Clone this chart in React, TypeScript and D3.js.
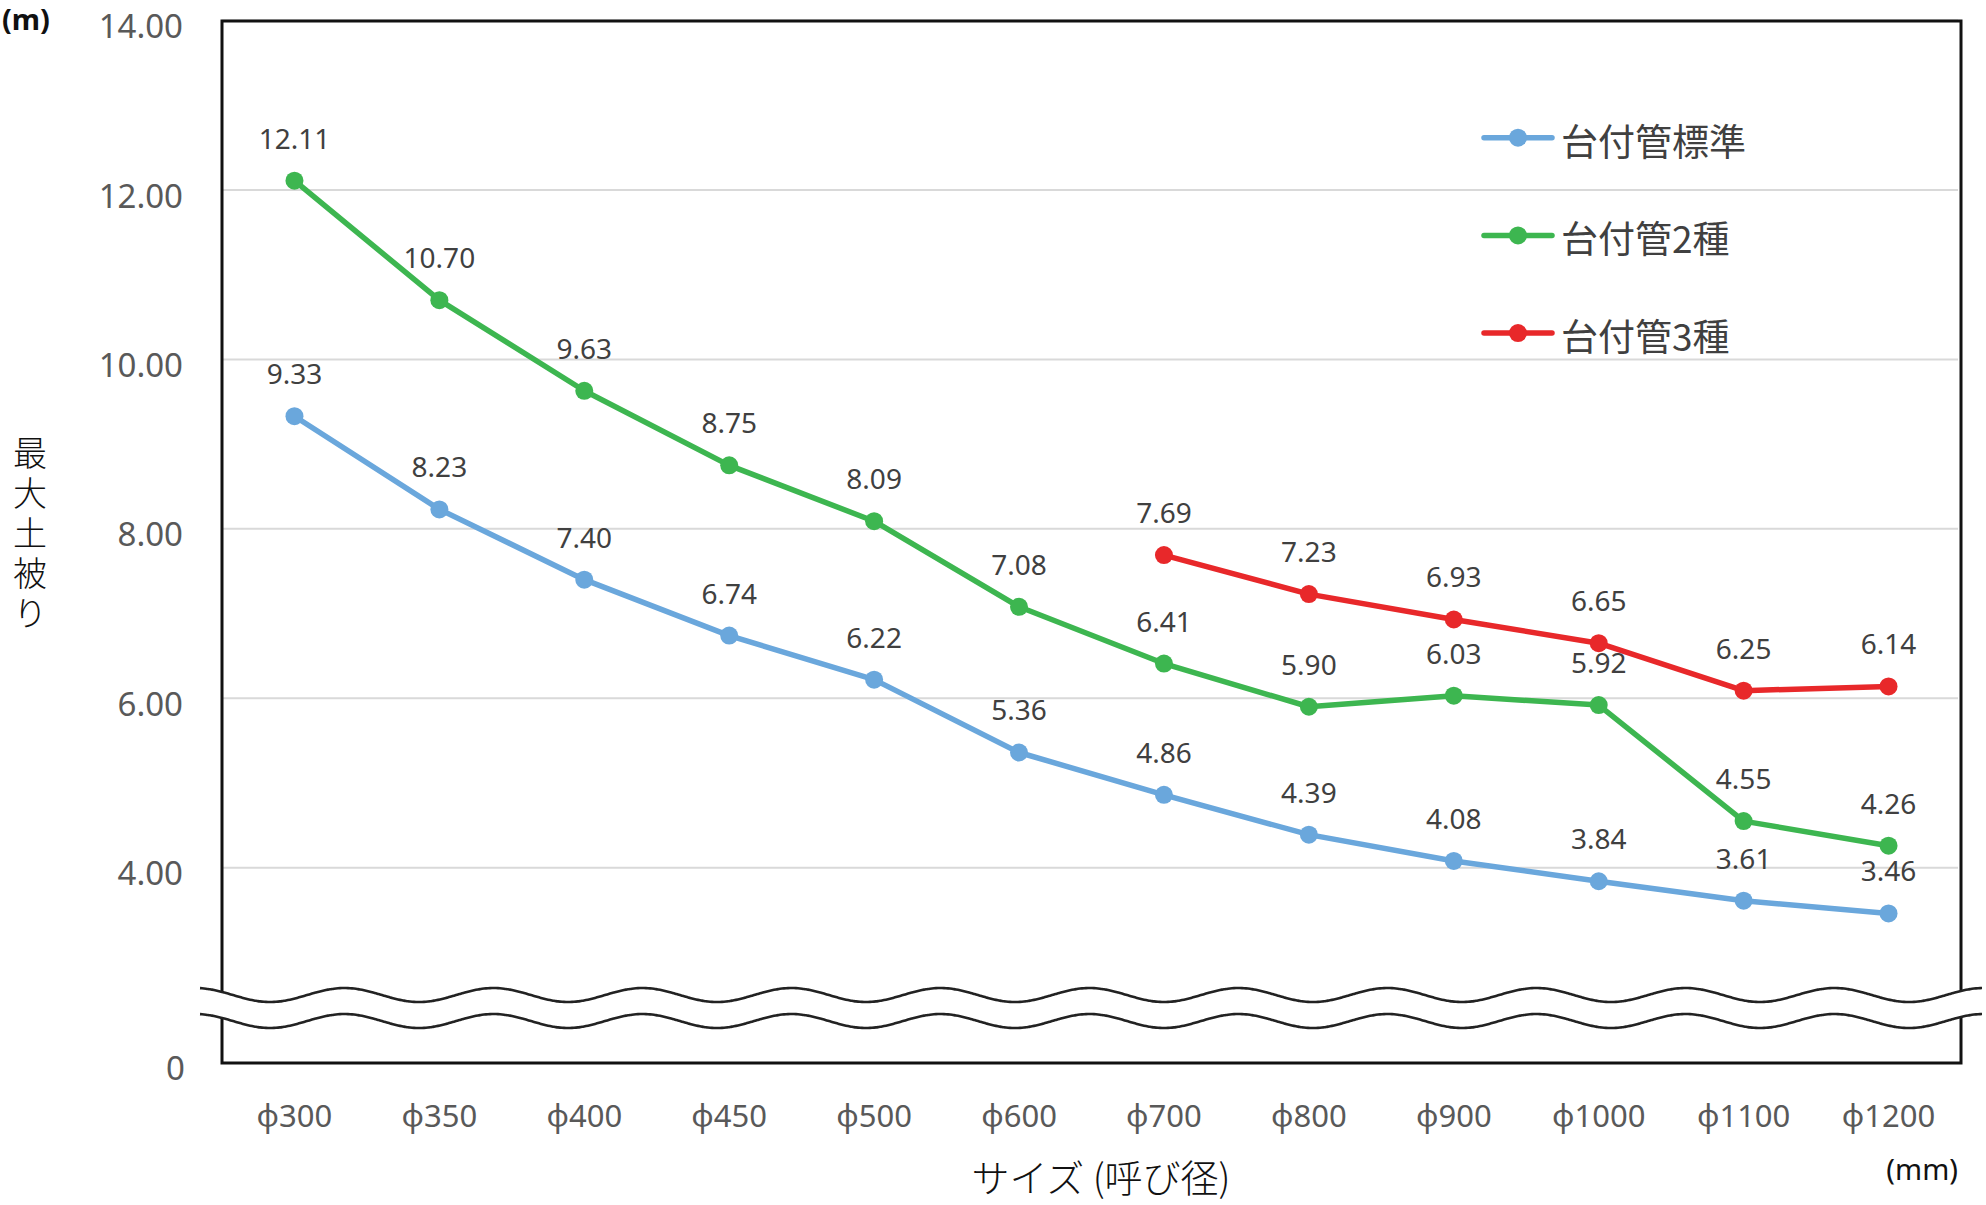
import React from "react";
import * as d3 from "d3";

const categories = ["ϕ300", "ϕ350", "ϕ400", "ϕ450", "ϕ500", "ϕ600", "ϕ700", "ϕ800", "ϕ900", "ϕ1000", "ϕ1100", "ϕ1200"];
const standardValues = [9.33, 8.23, 7.40, 6.74, 6.22, 5.36, 4.86, 4.39, 4.08, 3.84, 3.61, 3.46];
const type2Values = [12.11, 10.70, 9.63, 8.75, 8.09, 7.08, 6.41, 5.90, 6.03, 5.92, 4.55, 4.26];
// plotted positions (the φ1100 point sits lower than its label)
const type3Values: (number | null)[] = [null, null, null, null, null, null, 7.69, 7.23, 6.93, 6.65, 6.09, 6.14];
const type3Labels: (string | null)[] = [null, null, null, null, null, null, "7.69", "7.23", "6.93", "6.65", "6.25", "6.14"];
const yTicks = [4, 6, 8, 10, 12, 14];
const seriesNames = ["台付管標準", "台付管2種", "台付管3種"];
const seriesColors = ["#6aa7dc", "#3db650", "#e8282a"];

const W = 1986;
const H = 1205;
const left = 222;
const right = 1961;
const top = 21;
const bottom = 1063;

export default function App() {
  const x = d3.scalePoint<string>().domain(categories).range([left, right]).padding(0.5);
  const y = d3.scaleLinear().domain([4, 14]).range([867.7, 20.6]);
  const line = d3
    .line<number | null>()
    .defined((d) => d !== null)
    .x((_, i) => x(categories[i]) as number)
    .y((d) => y(d as number));

  const series = [
    { values: standardValues as (number | null)[], labels: standardValues.map((v) => v.toFixed(2)) as (string | null)[] },
    { values: type2Values as (number | null)[], labels: type2Values.map((v) => v.toFixed(2)) as (string | null)[] },
    { values: type3Values, labels: type3Labels },
  ];

  // break waves
  const period = 149;
  const amp = 7;
  const wave = (c: number) => {
    const pts: [number, number][] = [];
    for (let px = 200; px <= 1982; px += 2) {
      pts.push([px, c + amp * Math.cos((2 * Math.PI * (px - 270)) / period)]);
    }
    return pts;
  };
  const w1 = wave(995);
  const w2 = wave(1021);
  const waveLine = d3.line<[number, number]>().curve(d3.curveBasis);
  const gapArea = d3
    .area<[number, number]>()
    .x((d) => d[0])
    .y0((d) => d[1])
    .y1((d, i) => w2[i][1]);

  const sans = "'Noto Sans', 'Noto Sans CJK JP', sans-serif";
  const jp = "'Noto Sans CJK JP', 'Noto Sans', sans-serif";

  return (
    <svg width={W} height={H} style={{ display: "block", position: "absolute", left: 0, top: 0 }}>
      <rect x={0} y={0} width={W} height={H} fill="#fff" />
      {/* gridlines */}
      {yTicks.map((t) => (
        <line key={t} x1={left} x2={right - 3} y1={y(t)} y2={y(t)} stroke="#d9d9d9" strokeWidth={2} />
      ))}
      {/* frame */}
      <rect x={left} y={top} width={right - left} height={bottom - top} fill="none" stroke="#111" strokeWidth={3} />
      {/* break: white gap and waves */}
      <path d={gapArea(w1) || ""} fill="#fff" />
      <path d={waveLine(w1) || ""} fill="none" stroke="#222" strokeWidth={2.6} />
      <path d={waveLine(w2) || ""} fill="none" stroke="#222" strokeWidth={2.6} />

      {/* y tick labels */}
      {yTicks.map((t) => (
        <text key={t} x={183} y={y(t) + 5} textAnchor="end" dominantBaseline="central" fontFamily={sans} fontSize={33} fill="#595959">
          {t.toFixed(2)}
        </text>
      ))}
      <text x={185} y={1067} textAnchor="end" dominantBaseline="central" fontFamily={sans} fontSize={33} fill="#595959">
        0
      </text>
      <text x={2} y={30} fontFamily={sans} fontSize={29} fontWeight="bold" fill="#111">
        (m)
      </text>
      <text
        x={30}
        y={436}
        fontFamily={jp}
        fontSize={34}
        fontWeight={300}
        fill="#111"
        letterSpacing={6}
        style={{ writingMode: "vertical-rl" }}
      >
        最大土被り
      </text>

      {/* x tick labels */}
      {categories.map((c) => (
        <text key={c} x={x(c) as number} y={1127} textAnchor="middle" fontFamily={sans} fontSize={31} fill="#595959">
          {c}
        </text>
      ))}
      <text x={1101} y={1192} textAnchor="middle" fontFamily={jp} fontSize={38} fontWeight={300} fill="#111">
        サイズ (呼び径)
      </text>
      <text x={1958} y={1180} textAnchor="end" fontFamily={sans} fontSize={29} fill="#111">
        (mm)
      </text>

      {/* series */}
      {series.map((s, si) => (
        <g key={si}>
          <path d={line(s.values) || ""} fill="none" stroke={seriesColors[si]} strokeWidth={5.5} strokeLinejoin="round" />
          {s.values.map((v, i) =>
            v === null ? null : (
              <circle key={i} cx={x(categories[i]) as number} cy={y(v)} r={9} fill={seriesColors[si]} />
            )
          )}
        </g>
      ))}
      {series.map((s, si) => (
        <g key={"l" + si}>
          {s.values.map((v, i) =>
            v === null ? null : (
              <text key={i} x={x(categories[i]) as number} y={y(v) - 32} textAnchor="middle" fontFamily={sans} fontSize={28} fill="#404040">
                {s.labels[i]}
              </text>
            )
          )}
        </g>
      ))}

      {/* legend */}
      {seriesNames.map((n, i) => {
        const ly = 137.7 + i * 97.7;
        return (
          <g key={n}>
            <line x1={1484} x2={1552} y1={ly} y2={ly} stroke={seriesColors[i]} strokeWidth={5.5} strokeLinecap="round" />
            <circle cx={1518} cy={ly} r={9} fill={seriesColors[i]} />
            <text x={1561} y={ly + 2} dominantBaseline="central" fontFamily={jp} fontSize={37} fill="#404040">
              {n}
            </text>
          </g>
        );
      })}
    </svg>
  );
}
